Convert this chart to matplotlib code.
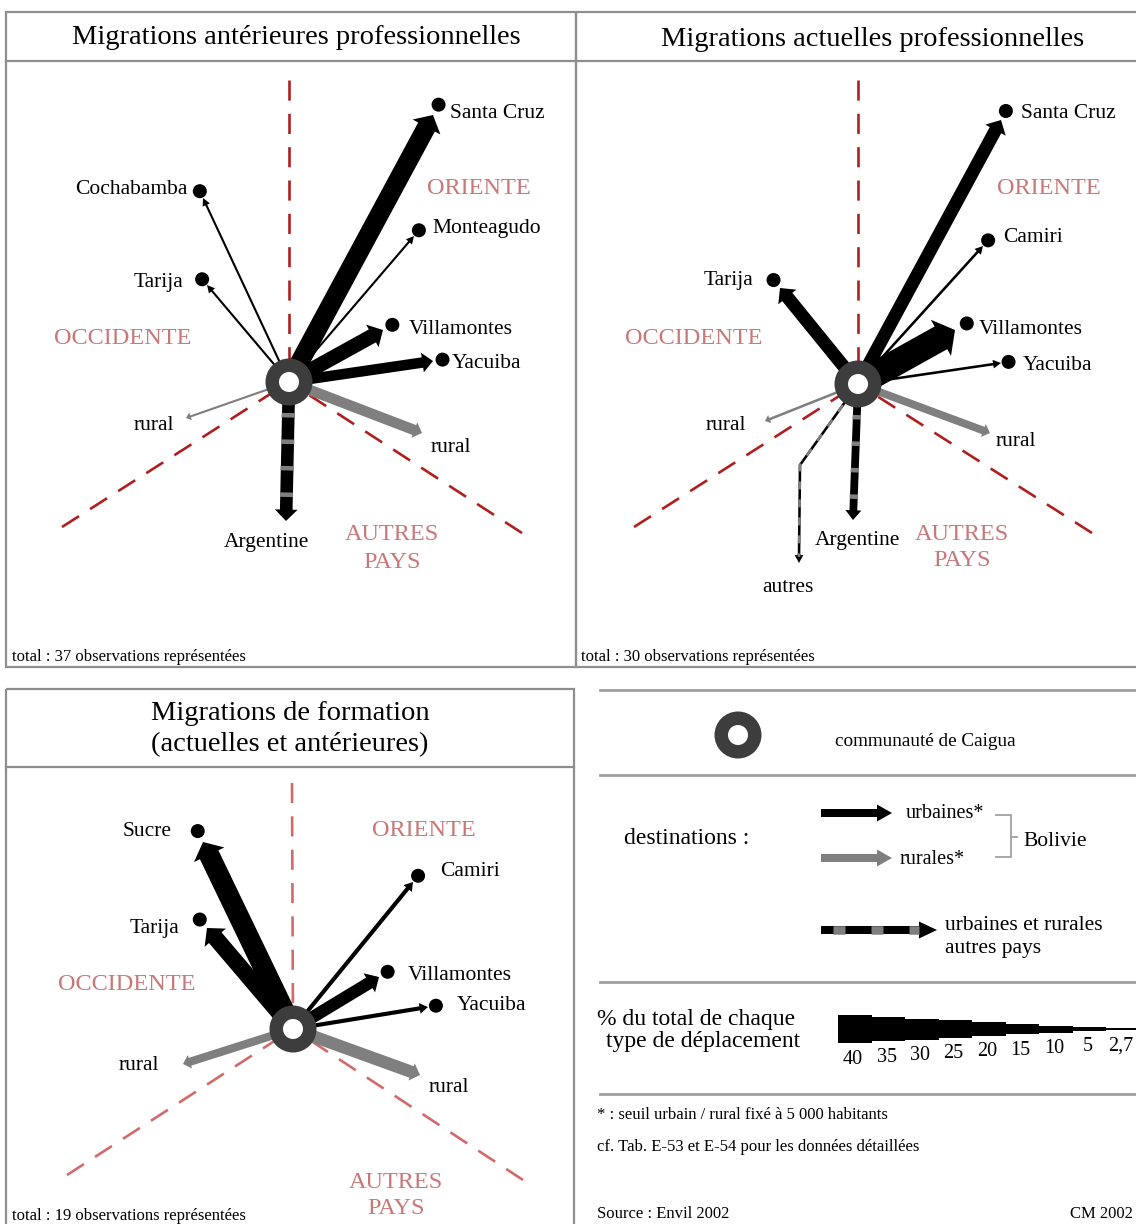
import numpy as np
import matplotlib
matplotlib.use('Agg')
import matplotlib.pyplot as plt
from matplotlib.patches import FancyArrow, Circle, Rectangle

plt.rcParams['font.family'] = ['Liberation Serif', 'DejaVu Serif']
plt.rcParams['lines.scale_dashes'] = False

BLACK = '#000000'
GREY = '#7f7f7f'
RING = '#3d3d3d'
BORDER = '#8e8e8e'
ZONE_TXT = '#c97777'

# ---- donnees : panneau A, migrations anterieures professionnelles (37 obs.)
a_names = ['Santa Cruz', 'Cochabamba', 'Monteagudo', 'Tarija', 'Villamontes', 'Yacuiba', 'rural', 'rural', 'Argentine']
a_kind = ['u', 'u', 'u', 'u', 'u', 'u', 'r', 'r', 'x']
a_pct = [24.3, 2.7, 2.7, 2.7, 18.9, 13.5, 2.7, 13.5, 16.2]
a_dx = [144, -86, 125, -82, 94, 144, -103, 133, -3]
a_dy = [-267, -184, -146, -97, -52, -21, 36, 51, 139]

# ---- panneau B, migrations actuelles professionnelles (30 obs.)
b_names = ['Santa Cruz', 'Camiri', 'Tarija', 'Villamontes', 'Yacuiba', 'rural', 'rural', 'Argentine', 'autres']
b_kind = ['u', 'u', 'u', 'u', 'u', 'r', 'r', 'x', 'x']
b_pct = [16.7, 3.3, 16.7, 33.3, 3.3, 3.3, 10.0, 10.0, 3.3]
b_dx = [143, 125, -78, 97, 143, -93, 132, -5, -59]
b_dy = [-264, -138, -96, -54, -21, 37, 49, 136, 179]
b_autres_bend = (-58, 81)

# ---- panneau C, migrations de formation (19 obs.)
c_names = ['Sucre', 'Tarija', 'Camiri', 'Villamontes', 'Yacuiba', 'rural', 'rural']
c_kind = ['u', 'u', 'u', 'u', 'u', 'r', 'r']
c_pct = [26.3, 21.1, 5.3, 15.8, 5.3, 10.5, 15.8]
c_dx = [-90, -86, 120, 86, 135, -110, 127]
c_dy = [-187, -101, -147, -52, -22, 35, 46]

# ---- echelle de la legende
scale_vals = [40, 35, 30, 25, 20, 15, 10, 5, 2.7]
scale_labels = ['40', '35', '30', '25', '20', '15', '10', '5', '2,7']

PX_PER_PCT = 0.7    # legende
FLOW_PX = 0.78      # fleches des cartes (un peu plus epaisses sur l'original)


def thick(p):
    return max(FLOW_PX * p, 1.6)


fig = plt.figure(figsize=(11.36, 12.24), dpi=100)
ax = fig.add_axes([0, 0, 1, 1])
ax.set_xlim(0, 1136)
ax.set_ylim(1224, 0)
ax.axis('off')


def arrow(x0, y0, x1, y1, w, col, kind, z=3):
    if kind == 'r':
        hw, hl = w + 6, 0.4 * w + 4
    else:
        hw, hl = 1.4 * w + 5, 0.35 * w + 7
    ax.add_patch(FancyArrow(x0, y0, x1 - x0, y1 - y0, width=w, head_width=hw,
                            head_length=hl, length_includes_head=True,
                            fc=col, ec='none', zorder=z))
    return hl


def stripes(xs, ys, w, on, off, z=3.5):
    # bandes grises sur la fleche noire (destinations hors Bolivie)
    ax.plot(xs, ys, color=GREY, lw=w * 0.72, solid_capstyle='butt',
            dash_capstyle='butt', ls=(off * 0.72, (on * 0.72, off * 0.72)), zorder=z)


def zone_line(x0, y0, x1, y1, col):
    ax.plot([x0, x1], [y0, y1], color=col, lw=1.9, ls=(0, (14.5, 9.5)),
            dash_capstyle='butt', zorder=1)


def ring(cx, cy, r_out=23.5, r_in=10):
    ax.add_patch(Circle((cx, cy), r_out, fc=RING, ec='none', zorder=6))
    ax.add_patch(Circle((cx, cy), r_in, fc='white', ec='none', zorder=7))


def flows(cx, cy, names, kinds, pcts, dxs, dys, bend=None):
    for n, k, p, dx, dy in zip(names, kinds, pcts, dxs, dys):
        w = thick(p)
        x1, y1 = cx + dx, cy + dy
        if k == 'u':
            arrow(cx, cy, x1, y1, w, BLACK, k)
            u = np.array([dx, dy]) / np.hypot(dx, dy)
            d = 7 + 0.25 * w
            ax.add_patch(Circle((x1 + u[0] * d, y1 + u[1] * d), 7, fc=BLACK, ec='none', zorder=4))
        elif k == 'r':
            arrow(cx, cy, x1, y1, w, GREY, k)
        else:
            if n == 'autres' and bend is not None:
                bx, by = cx + bend[0], cy + bend[1]
                ax.plot([cx, bx, x1], [cy, by, y1 - 6], color=BLACK, lw=w * 0.72,
                        solid_joinstyle='miter', zorder=3)
                stripes([cx, bx, x1], [cy, by, y1 - 6], w, 8, 10)
                arrow(x1, y1 - 9, x1, y1, w, BLACK, 'u')
            else:
                hl = arrow(cx, cy, x1, y1, w, BLACK, 'u')
                L = np.hypot(dx, dy)
                f = (L - hl) / L
                stripes([cx, cx + dx * f], [cy, cy + dy * f], w + 0.5, 4.5, 22)


def label(x, y, s, ha='left', size=15.5, col=BLACK):
    ax.text(x, y + 2, s, ha=ha, va='center', fontsize=size, color=col, zorder=8)


def zone_labels(o, oc, ap, ap2):
    label(o[0], o[1], 'ORIENTE', ha='center', size=17.5, col=ZONE_TXT)
    label(oc[0], oc[1], 'OCCIDENTE', ha='center', size=17.5, col=ZONE_TXT)
    label(ap[0], ap[1], 'AUTRES', ha='center', size=17.5, col=ZONE_TXT)
    label(ap2[0], ap2[1], 'PAYS', ha='center', size=17.5, col=ZONE_TXT)


# ---------------- cadres
box_kw = dict(fill=False, ec=BORDER, lw=1.6, zorder=0)
ax.add_patch(Rectangle((6, 12), 570, 655, **box_kw))
ax.add_patch(Rectangle((576, 12), 570, 655, **box_kw))
ax.add_patch(Rectangle((6, 689), 568, 545, **box_kw))
ax.plot([6, 1136], [61, 61], color=BORDER, lw=1.6)
ax.plot([6, 574], [767, 767], color=BORDER, lw=1.6)

label(296, 36, 'Migrations antérieures professionnelles', ha='center', size=20.5)
label(873, 37, 'Migrations actuelles professionnelles', ha='center', size=20.5)
label(290, 712, 'Migrations de formation', ha='center', size=20.5)
label(290, 743, '(actuelles et antérieures)', ha='center', size=20.5)

# ---------------- panneau A
cxA, cyA = 289, 382
zone_line(289, 80, cxA, cyA, '#b01f1f')
zone_line(62, 527, cxA, cyA, '#b01f1f')
zone_line(522, 533, cxA, cyA, '#b01f1f')
flows(cxA, cyA, a_names, a_kind, a_pct, a_dx, a_dy)
ring(cxA, cyA)
zone_labels((479, 186), (123, 336), (392, 533), (392, 560))
label(450, 112, 'Santa Cruz')
label(187, 188, 'Cochabamba', ha='right')
label(432, 226, 'Monteagudo')
label(183, 281, 'Tarija', ha='right')
label(409, 327, 'Villamontes')
label(452, 362, 'Yacuiba')
label(174, 423, 'rural', ha='right')
label(431, 445, 'rural')
label(266, 540, 'Argentine', ha='center')
label(12, 655, 'total : 37 observations représentées', size=12)

# ---------------- panneau B
cxB, cyB = 858, 384
zone_line(858, 80, cxB, cyB, '#b01f1f')
zone_line(634, 527, cxB, cyB, '#b01f1f')
zone_line(1092, 533, cxB, cyB, '#b01f1f')
flows(cxB, cyB, b_names, b_kind, b_pct, b_dx, b_dy, bend=b_autres_bend)
ring(cxB, cyB)
zone_labels((1049, 186), (694, 336), (962, 533), (962, 559))
label(1021, 112, 'Santa Cruz')
label(1003, 235, 'Camiri')
label(753, 278, 'Tarija', ha='right')
label(979, 327, 'Villamontes')
label(1023, 364, 'Yacuiba')
label(746, 424, 'rural', ha='right')
label(996, 439, 'rural')
label(857, 538, 'Argentine', ha='center')
label(788, 586, 'autres', ha='center')
label(581, 655, 'total : 30 observations représentées', size=12)

# ---------------- panneau C
cxC, cyC = 293, 1029
zone_line(292, 783, cxC, cyC, '#d36a6a')
zone_line(67, 1175, cxC, cyC, '#d36a6a')
zone_line(523, 1180, cxC, cyC, '#d36a6a')
flows(cxC, cyC, c_names, c_kind, c_pct, c_dx, c_dy)
ring(cxC, cyC)
zone_labels((424, 828), (127, 983), (396, 1180), (396, 1206))
label(172, 830, 'Sucre', ha='right')
label(179, 927, 'Tarija', ha='right')
label(440, 870, 'Camiri')
label(408, 973, 'Villamontes')
label(457, 1004, 'Yacuiba')
label(159, 1063, 'rural', ha='right')
label(429, 1085, 'rural')
label(12, 1214, 'total : 19 observations représentées', size=12)

# ---------------- legende
for yl in [690, 775, 982, 1094]:
    ax.plot([600, 1136], [yl, yl], color='#a0a0a0', lw=2)

ring(738, 735)
label(835, 740, 'communauté de Caigua', size=13.8)

label(624, 836, 'destinations :', size=17)
ax.add_patch(FancyArrow(821, 813, 71, 0, width=8, head_width=17, head_length=15,
                        length_includes_head=True, fc=BLACK, ec='none'))
ax.add_patch(FancyArrow(821, 858, 71, 0, width=8, head_width=17, head_length=15,
                        length_includes_head=True, fc=GREY, ec='none'))
label(906, 812, 'urbaines*', size=14.5)
label(900, 857, 'rurales*', size=14.5)
ax.plot([996, 1011, 1011, 996], [815, 815, 857, 857], color='#a0a0a0', lw=1.3)
ax.plot([1011, 1017], [837, 837], color='#a0a0a0', lw=1.3)
label(1023, 839, 'Bolivie', size=15.5)

ax.add_patch(FancyArrow(821, 930, 116, 0, width=8, head_width=17, head_length=18,
                        length_includes_head=True, fc=BLACK, ec='none', zorder=3))
stripes([821, 919], [930, 930], 8.5, 12, 26)
label(945, 923, 'urbaines et rurales', size=15.5)
label(945, 946, 'autres pays', size=15.5)

label(597, 1018, '% du total de chaque', size=17)
label(606, 1040, 'type de déplacement', size=17)
seg_x = 838 + 33.5 * np.arange(len(scale_vals))
seg_h = np.array([PX_PER_PCT * v for v in scale_vals])
ax.bar(seg_x, seg_h, bottom=1029 - seg_h / 2, width=33.6, align='edge', color=BLACK, lw=0)
for x, h, s in zip(seg_x, seg_h, scale_labels):
    label(x + 15, 1029 + h / 2 + 14, s, ha='center', size=14.5)

label(597, 1113, '* : seuil urbain / rural fixé à 5 000 habitants', size=12)
label(597, 1145, 'cf. Tab. E-53 et E-54 pour les données détaillées', size=12)
label(597, 1212, 'Source : Envil 2002', size=12)
label(1070, 1212, 'CM 2002', size=12)

fig.savefig('out.png', dpi=100)
